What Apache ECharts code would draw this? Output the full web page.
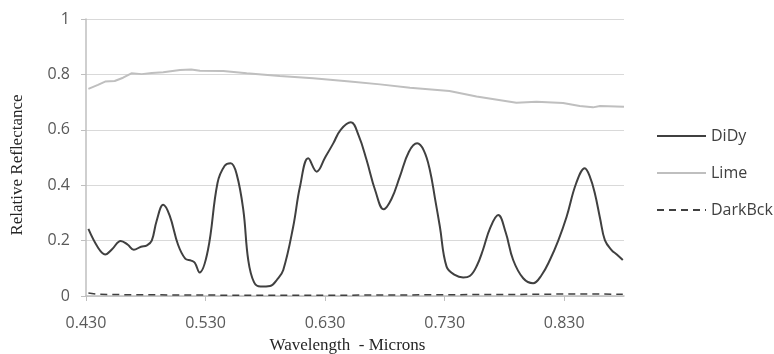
<!DOCTYPE html>
<html>
<head>
<meta charset="utf-8">
<script src="https://cdn.jsdelivr.net/npm/echarts@6/dist/echarts.min.js"></script>
<style>
  html, body { margin: 0; padding: 0; background: #fff; }
  #chart { width: 774px; height: 354px; }
</style>
</head>
<body>
<div id="chart"></div>
<script>
// Spectral reflectance curves (wavelength in microns)
const didyX = [0.432, 0.440, 0.446, 0.452, 0.459, 0.465, 0.470, 0.476, 0.481, 0.485, 0.489, 0.4946, 0.500, 0.507, 0.513, 0.518, 0.521, 0.525, 0.532, 0.540, 0.546, 0.551, 0.556, 0.5616, 0.5657, 0.5705, 0.576, 0.584, 0.590, 0.595, 0.6033, 0.609, 0.6159, 0.623, 0.630, 0.6368, 0.643, 0.6515, 0.658, 0.6647, 0.672, 0.679, 0.6855, 0.6925, 0.700, 0.707, 0.7126, 0.7176, 0.722, 0.726, 0.7316, 0.7385, 0.7455, 0.751, 0.757, 0.762, 0.768, 0.7748, 0.781, 0.7873, 0.7957, 0.804, 0.811, 0.818, 0.825, 0.832, 0.840, 0.8472, 0.8515, 0.8556, 0.860, 0.864, 0.8696, 0.874, 0.879];
const didyY = [0.242, 0.175, 0.150, 0.170, 0.199, 0.185, 0.167, 0.178, 0.183, 0.200, 0.270, 0.329, 0.290, 0.185, 0.135, 0.128, 0.120, 0.085, 0.166, 0.408, 0.470, 0.479, 0.440, 0.310, 0.130, 0.050, 0.034, 0.036, 0.060, 0.094, 0.250, 0.395, 0.497, 0.449, 0.500, 0.551, 0.600, 0.627, 0.580, 0.491, 0.380, 0.313, 0.350, 0.431, 0.520, 0.551, 0.525, 0.455, 0.350, 0.250, 0.106, 0.076, 0.067, 0.072, 0.110, 0.166, 0.245, 0.292, 0.230, 0.130, 0.064, 0.046, 0.075, 0.130, 0.200, 0.286, 0.407, 0.461, 0.430, 0.371, 0.280, 0.202, 0.166, 0.150, 0.130];

const limeX = [0.432, 0.440, 0.446, 0.454, 0.461, 0.468, 0.4766, 0.485, 0.4946, 0.5086, 0.518, 0.5253, 0.5448, 0.5644, 0.592, 0.620, 0.6507, 0.676, 0.701, 0.734, 0.7567, 0.790, 0.8068, 0.829, 0.843, 0.854, 0.860, 0.880];
const limeY = [0.748, 0.762, 0.774, 0.776, 0.788, 0.804, 0.801, 0.805, 0.808, 0.816, 0.818, 0.813, 0.812, 0.804, 0.794, 0.786, 0.774, 0.764, 0.752, 0.740, 0.720, 0.698, 0.701, 0.697, 0.686, 0.681, 0.686, 0.683];

const darkX = [0.432, 0.440, 0.460, 0.500, 0.550, 0.600, 0.650, 0.700, 0.750, 0.800, 0.830, 0.860, 0.879];
const darkY = [0.011, 0.006, 0.005, 0.004, 0.003, 0.003, 0.003, 0.004, 0.005, 0.006, 0.007, 0.007, 0.006];

const seriesNames = ['DiDy', 'Lime', 'DarkBck'];
const xTitle = 'Wavelength  - Microns';
const yTitle = 'Relative Reflectance';

const pairs = (xs, ys) => xs.map((x, i) => [x, ys[i]]);

const chart = echarts.init(document.getElementById('chart'));
chart.setOption({
  animation: false,
  backgroundColor: '#ffffff',
  grid: { left: 86, right: 150, top: 19, bottom: 58, outerBoundsMode: 'none', containLabel: false },
  legend: {
    orient: 'vertical',
    left: 651,
    top: 123,
    itemWidth: 49,
    itemHeight: 14,
    itemGap: 21,
    data: seriesNames,
    // line-only legend keys (hide the marker drawn on the key line)
    itemStyle: { color: 'rgba(0,0,0,0)', borderWidth: 0, opacity: 0 },
    textStyle: { fontFamily: 'Open Sans', fontSize: 16, color: '#404040' }
  },
  xAxis: {
    type: 'value',
    min: 0.43,
    max: 0.88,
    interval: 0.1,
    name: xTitle,
    nameLocation: 'middle',
    nameGap: 41,
    nameTextStyle: { fontFamily: 'Liberation Serif', fontSize: 17, color: '#262626', padding: [0, 15, 0, 0] },
    axisLine: { lineStyle: { color: '#bfbfbf', width: 1.5 } },
    axisTick: { show: true, length: 5, lineStyle: { color: '#bfbfbf' } },
    axisLabel: {
      margin: 19,
      fontFamily: 'Open Sans',
      fontSize: 16,
      color: '#595959',
      showMaxLabel: false,
      formatter: v => v.toFixed(3)
    },
    splitLine: { show: false }
  },
  yAxis: {
    type: 'value',
    min: 0,
    max: 1,
    interval: 0.2,
    name: yTitle,
    nameLocation: 'middle',
    nameGap: 60,
    nameTextStyle: { fontFamily: 'Liberation Serif', fontSize: 17, color: '#262626', padding: [0, 0, 0, -15] },
    axisLine: { show: true, lineStyle: { color: '#bfbfbf', width: 1.5 } },
    axisTick: { show: true, length: 5, lineStyle: { color: '#bfbfbf' } },
    axisLabel: {
      margin: 16,
      fontFamily: 'Open Sans',
      fontSize: 16,
      color: '#595959',
      formatter: v => (v === 0 || v === 1) ? String(v) : v.toFixed(1)
    },
    splitLine: { lineStyle: { color: '#d9d9d9', width: 1 } }
  },
  series: [
    {
      name: 'DiDy',
      type: 'line',
      data: pairs(didyX, didyY),
      smooth: 0.4,
      symbol: 'none',
      lineStyle: { color: '#404040', width: 2 },
      itemStyle: { color: '#404040' },
      z: 3
    },
    {
      name: 'Lime',
      type: 'line',
      data: pairs(limeX, limeY),
      symbol: 'none',
      lineStyle: { color: '#bfbfbf', width: 2 },
      itemStyle: { color: '#bfbfbf' },
      z: 2
    },
    {
      name: 'DarkBck',
      type: 'line',
      data: pairs(darkX, darkY),
      symbol: 'none',
      lineStyle: { color: '#404040', width: 1.5, type: [7, 5] },
      itemStyle: { color: '#404040' },
      z: 2
    }
  ]
});
</script>
</body>
</html>
